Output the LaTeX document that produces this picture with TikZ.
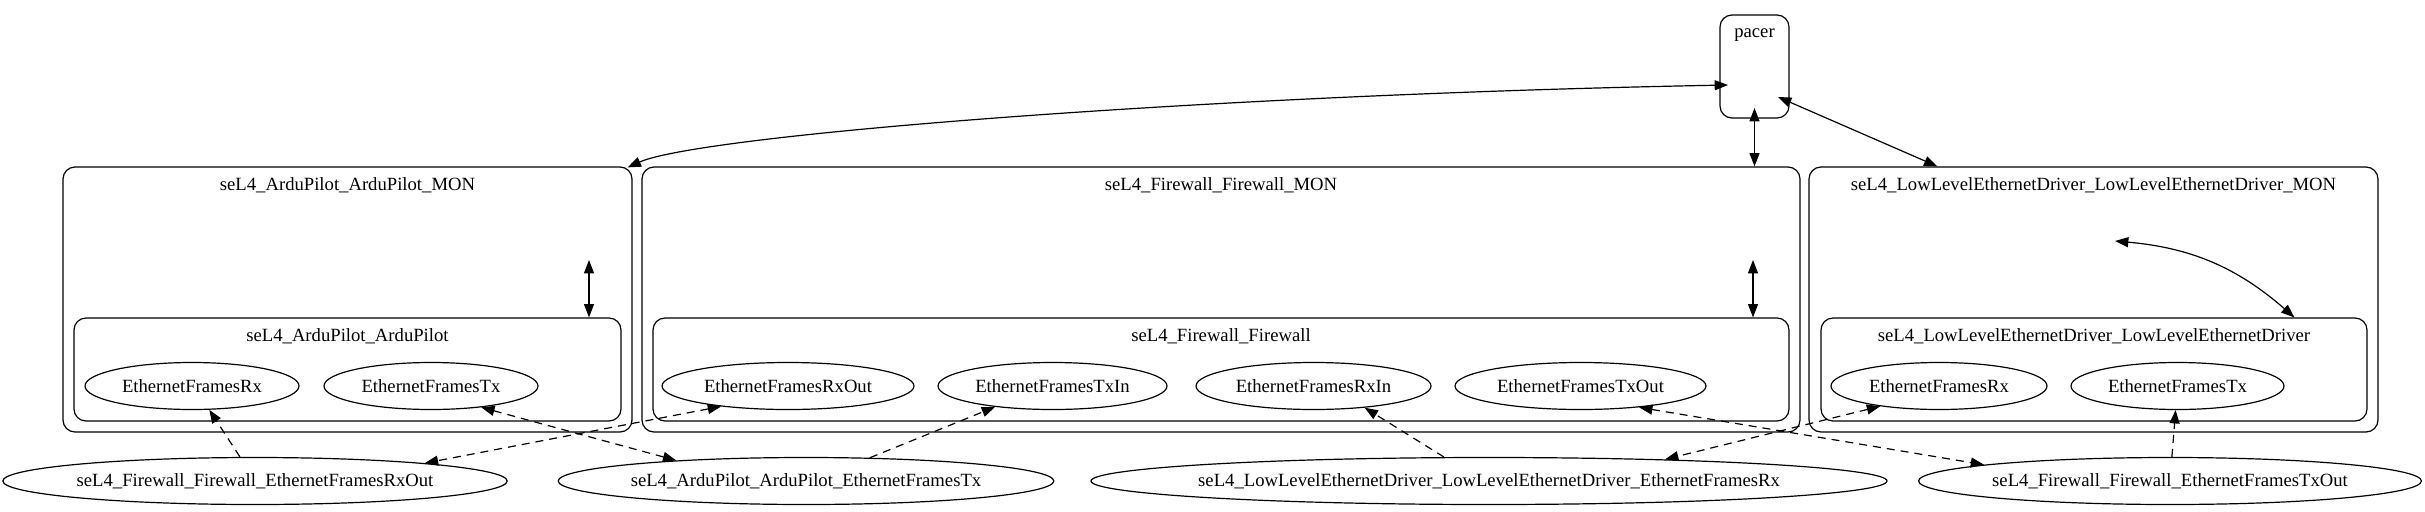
\documentclass[tikz,border=0pt]{standalone}
\usepackage{fontspec}
\setmainfont{Liberation Serif}
\usepackage{tikz}
\usetikzlibrary{calc, shapes, arrows.meta}
\tikzstyle{cluster} = [rectangle, draw, rounded corners=9pt, inner sep=0pt]
\tikzstyle{port} = [ellipse, draw, inner sep=0pt, minimum height=35.25pt]
\tikzstyle{link} = [dash pattern=on 6pt off 4.5pt]

\begin{document}
\begin{tikzpicture}[x=0.75pt, y=-0.75pt, line width=0.9pt, font=\fontsize{14}{17}\selectfont, >={Triangle[length=10pt,width=7.5pt]}]
        \useasboundingbox (0,0) rectangle (2425,511);

        \node[cluster, minimum width=51.75pt, minimum height=77.25pt] at (1754.5, 66.5) (pacer) {};
        \node at (1754.5, 35) (pacerlabel) {pacer};

        \node[cluster, minimum width=426.75pt, minimum height=198.75pt] at (347.5, 299.5) (apmon) {};
        \node at (347.5, 185) (apmonlabel) {seL4\_ArduPilot\_ArduPilot\_MON};
        \node[cluster, minimum width=410.25pt, minimum height=77.25pt] at (347.5, 369.5) (ap) {};
        \node at (347.5, 336) (aplabel) {seL4\_ArduPilot\_ArduPilot};
        \node[port, minimum width=160.5pt] at (192, 386) (apRx) {EthernetFramesRx};
        \node[port, minimum width=160.5pt] at (431, 386) (apTx) {EthernetFramesTx};

        \node[cluster, minimum width=868.5pt, minimum height=198.75pt] at (1221, 299.5) (fwmon) {};
        \node at (1221, 185) (fwmonlabel) {seL4\_Firewall\_Firewall\_MON};
        \node[cluster, minimum width=852pt, minimum height=77.25pt] at (1221, 369.5) (fw) {};
        \node at (1221, 336) (fwlabel) {seL4\_Firewall\_Firewall};
        \node[port, minimum width=189pt] at (788, 386) (fwRxOut) {EthernetFramesRxOut};
        \node[port, minimum width=171.75pt] at (1052.5, 386) (fwTxIn) {EthernetFramesTxIn};
        \node[port, minimum width=176.25pt] at (1313.5, 386) (fwRxIn) {EthernetFramesRxIn};
        \node[port, minimum width=188.25pt] at (1580.5, 386) (fwTxOut) {EthernetFramesTxOut};

        \node[cluster, minimum width=426.75pt, minimum height=198.75pt] at (2093.5, 299.5) (lledmon) {};
        \node at (2093.5, 185) (lledmonlabel) {seL4\_LowLevelEthernetDriver\_LowLevelEthernetDriver\_MON};
        \node[cluster, minimum width=409.5pt, minimum height=77.25pt] at (2094, 369.5) (lled) {};
        \node at (2094, 336) (lledlabel) {seL4\_LowLevelEthernetDriver\_LowLevelEthernetDriver};
        \node[port, minimum width=162pt] at (1939, 386) (lledRx) {EthernetFramesRx};
        \node[port, minimum width=159.75pt] at (2177.5, 386) (lledTx) {EthernetFramesTx};

        \node[port, minimum width=376.5pt] at (255, 481) (connRxOut) {seL4\_Firewall\_Firewall\_EthernetFramesRxOut};
        \node[port, minimum width=369pt] at (806, 481) (connApTx) {seL4\_ArduPilot\_ArduPilot\_EthernetFramesTx};
        \node[port, minimum width=597pt, inner xsep=-7pt] at (1489, 481) (connLledRx) {seL4\_LowLevelEthernetDriver\_LowLevelEthernetDriver\_EthernetFramesRx};
        \node[port, minimum width=375pt] at (2170, 481) (connTxOut) {seL4\_Firewall\_Firewall\_EthernetFramesTxOut};

        \coordinate (pacerW) at (1728, 85);
        \coordinate (pacerS) at (1754.5, 108);
        \coordinate (pacerE) at (1778, 97);
        \coordinate (apmonpt) at (589, 260);
        \coordinate (fwmonpt) at (1753, 260);
        \coordinate (lledmonpt) at (2115, 241);

        \draw[<->] (pacerW) .. controls (1200, 95) and (700, 135) .. ($(apmon.north east)+(-5,1)$);
        \draw[<->] (pacerS) -- (pacerS |- fwmon.north);
        \draw[<->] (pacerE) -- ($(lledmon.north west)+(129,0)$);

        \draw[<->] (apmonpt) -- (apmonpt |- ap.north);
        \draw[<->] (fwmonpt) -- (fwmonpt |- fw.north);
        \draw[<->] (lledmonpt) to[bend left=18] ($(lled.north west)+(474,0)$);

        \draw[->, link] (connRxOut.122.6) -- (apRx.306);
        \draw[<->, link] (fwRxOut.197) -- (connRxOut.6);
        \draw[<->, link] (apTx.337) -- (connApTx.171);
        \draw[->, link] (connApTx.20) -- (fwTxIn.200);
        \draw[->, link] (connLledRx.152) -- (fwRxIn.337);
        \draw[<->, link] (fwTxOut.340) -- (connTxOut.175);
        \draw[<->, link] (lledRx.199) -- (connLledRx.7.7);
        \draw[->, link] (connTxOut) -- (lledTx);
    \end{tikzpicture}
\end{document}
